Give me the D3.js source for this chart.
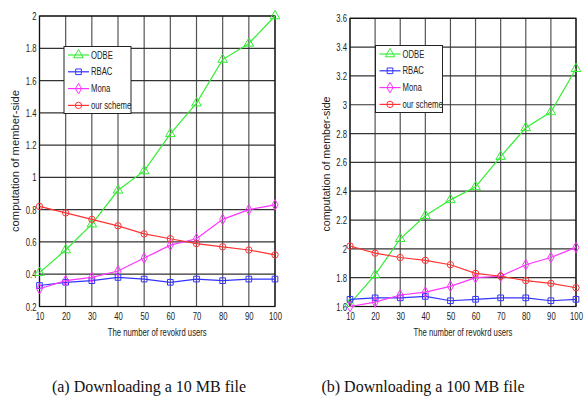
<!DOCTYPE html>
<html>
<head>
<meta charset="utf-8">
<script src="https://cdn.jsdelivr.net/npm/d3@7"></script>
<style>
  body { margin: 0; background: #fff; }
</style>
</head>
<body>
<svg id="chart" width="584" height="401"></svg>
<script>
var users = [10, 20, 30, 40, 50, 60, 70, 80, 90, 100];
var seriesNames = ['ODBE', 'RBAC', 'Mona', 'our scheme'];

// (a) 10 MB file
var odbeA = [0.41, 0.55, 0.71, 0.92, 1.04, 1.27, 1.46, 1.73, 1.83, 2.0];
var rbacA = [0.33, 0.35, 0.36, 0.38, 0.37, 0.35, 0.37, 0.36, 0.37, 0.37];
var monaA = [0.31, 0.36, 0.38, 0.42, 0.50, 0.58, 0.62, 0.74, 0.80, 0.83];
var oursA = [0.82, 0.78, 0.74, 0.70, 0.65, 0.62, 0.59, 0.57, 0.55, 0.52];
var yTicksA = [0.2, 0.4, 0.6, 0.8, 1, 1.2, 1.4, 1.6, 1.8, 2];

// (b) 100 MB file
var odbeB = [1.62, 1.82, 2.07, 2.23, 2.34, 2.43, 2.64, 2.84, 2.95, 3.25];
var rbacB = [1.65, 1.66, 1.66, 1.67, 1.64, 1.65, 1.66, 1.66, 1.64, 1.65];
var monaB = [1.60, 1.63, 1.68, 1.70, 1.74, 1.80, 1.81, 1.89, 1.94, 2.01];
var oursB = [2.02, 1.97, 1.94, 1.92, 1.89, 1.83, 1.81, 1.78, 1.76, 1.73];
var yTicksB = [1.6, 1.8, 2, 2.2, 2.4, 2.6, 2.8, 3, 3.2, 3.4, 3.6];

var colors = ['#33ee33', '#3333ff', '#ff33ff', '#ff3333'];
var symbols = [d3.symbolTriangle, d3.symbolSquare, d3.symbolDiamond, d3.symbolCircle];
var sansFont = '"Liberation Sans", Arial, sans-serif';
var serifFont = '"Liberation Serif", "Times New Roman", serif';

var svg = d3.select('#chart');

function drawPanel(opt) {
  var g = svg.append('g').attr('font-family', sansFont);
  var x = d3.scaleLinear().domain([10, 100]).range([opt.left, opt.right]);
  var y = d3.scaleLinear().domain(opt.yDomain).range([opt.bottom, opt.top]);

  // grid
  g.selectAll('.vgrid').data(users).enter().append('line')
    .attr('x1', (d) => x(d)).attr('x2', (d) => x(d))
    .attr('y1', opt.top).attr('y2', opt.bottom)
    .attr('stroke', '#555').attr('stroke-width', 1.2);
  g.selectAll('.hgrid').data(opt.yTicks).enter().append('line')
    .attr('x1', opt.left).attr('x2', opt.right)
    .attr('y1', (d) => y(d)).attr('y2', (d) => y(d))
    .attr('stroke', '#333').attr('stroke-width', 1.2);

  // axes
  var xAxis = d3.axisBottom(x).tickValues(users).tickSize(0).tickPadding(6);
  var yAxis = d3.axisLeft(y).tickValues(opt.yTicks).tickSize(0).tickPadding(3)
    .tickFormat(d3.format('~g'));
  g.append('g').attr('transform', 'translate(0,' + opt.bottom + ')').call(xAxis)
    .attr('font-family', sansFont)
    .call((a) => a.select('.domain').remove())
    .selectAll('text').attr('class', 'narrow').attr('font-size', 11).attr('fill', '#222');
  g.append('g').attr('transform', 'translate(' + opt.left + ',0)').call(yAxis)
    .attr('font-family', sansFont)
    .call((a) => a.select('.domain').remove())
    .selectAll('text').attr('class', 'narrow').attr('font-size', 11).attr('fill', '#222');

  g.append('rect')
    .attr('x', opt.left).attr('y', opt.top)
    .attr('width', opt.right - opt.left).attr('height', opt.bottom - opt.top)
    .attr('fill', 'none').attr('stroke', '#111').attr('stroke-width', 1.2);

  // series
  var line = d3.line().x((d, i) => x(users[i])).y((d) => y(d));
  opt.series.forEach(function(vals, k) {
    g.append('path').datum(vals)
      .attr('d', line).attr('fill', 'none')
      .attr('stroke', colors[k]).attr('stroke-width', 1.2);
    g.selectAll('.m' + k).data(vals).enter().append('path')
      .attr('transform', (d, i) => 'translate(' + x(users[i]) + ',' + y(d) + ')')
      .attr('d', d3.symbol().type(symbols[k]).size(k === 0 ? 40 : 32))
      .attr('fill', 'none').attr('stroke', colors[k]).attr('stroke-width', 1);
  });

  // legend
  var lg = g.append('g').attr('transform', 'translate(' + opt.legendX + ',' + opt.legendY + ')');
  lg.append('rect').attr('width', 67).attr('height', 67)
    .attr('fill', '#fff').attr('stroke', '#222').attr('stroke-width', 1);
  seriesNames.forEach(function(name, k) {
    var ly = 8.5 + k * 16.8;
    lg.append('line').attr('x1', 4).attr('x2', 25).attr('y1', ly).attr('y2', ly)
      .attr('stroke', colors[k]).attr('stroke-width', 1.2);
    lg.append('path').attr('transform', 'translate(14.5,' + ly + ')')
      .attr('d', d3.symbol().type(symbols[k]).size(k === 0 ? 40 : 32))
      .attr('fill', 'none').attr('stroke', colors[k]);
    lg.append('text').attr('class', 'narrow').attr('x', 27).attr('y', ly + 3.5)
      .attr('font-size', 11).attr('fill', '#222').text(name);
  });

  // axis titles
  g.append('text').attr('class', 'narrow')
    .attr('x', (opt.left + opt.right) / 2).attr('y', opt.bottom + 29)
    .attr('text-anchor', 'middle').attr('font-size', 11).attr('fill', '#222')
    .text('The number of revokrd users');
  g.append('text')
    .attr('transform', 'translate(' + opt.yLabelX + ',' + opt.yLabelY + ') rotate(-90)')
    .attr('text-anchor', 'middle').attr('font-size', 11).attr('fill', '#222')
    .attr('textLength', opt.yLabelLen).attr('lengthAdjust', 'spacingAndGlyphs')
    .text('computation of member-side');

  svg.append('text')
    .attr('x', opt.captionX).attr('y', 392)
    .attr('text-anchor', 'middle').attr('font-size', 16).attr('fill', '#111')
    .attr('font-family', serifFont)
    .text(opt.caption);
}

drawPanel({
  left: 39.5, right: 275, top: 16, bottom: 306.5,
  yDomain: [0.2, 2], yTicks: yTicksA,
  series: [odbeA, rbacA, monaA, oursA],
  legendX: 64, legendY: 46.5, yLabelX: 19, yLabelY: 161, yLabelLen: 142,
  captionX: 149, caption: '(a) Downloading a 10 MB file'
});

drawPanel({
  left: 350, right: 576, top: 18.3, bottom: 306.5,
  yDomain: [1.6, 3.6], yTicks: yTicksB,
  series: [odbeB, rbacB, monaB, oursB],
  legendX: 375.5, legendY: 45.5, yLabelX: 330, yLabelY: 164, yLabelLen: 135,
  captionX: 423, caption: '(b) Downloading a 100 MB file'
});

// condense the small sans labels to look like a narrow face
svg.selectAll('text.narrow').each(function() {
  var w = this.getComputedTextLength();
  d3.select(this).attr('textLength', w * 0.7).attr('lengthAdjust', 'spacingAndGlyphs');
});
</script>
</body>
</html>
